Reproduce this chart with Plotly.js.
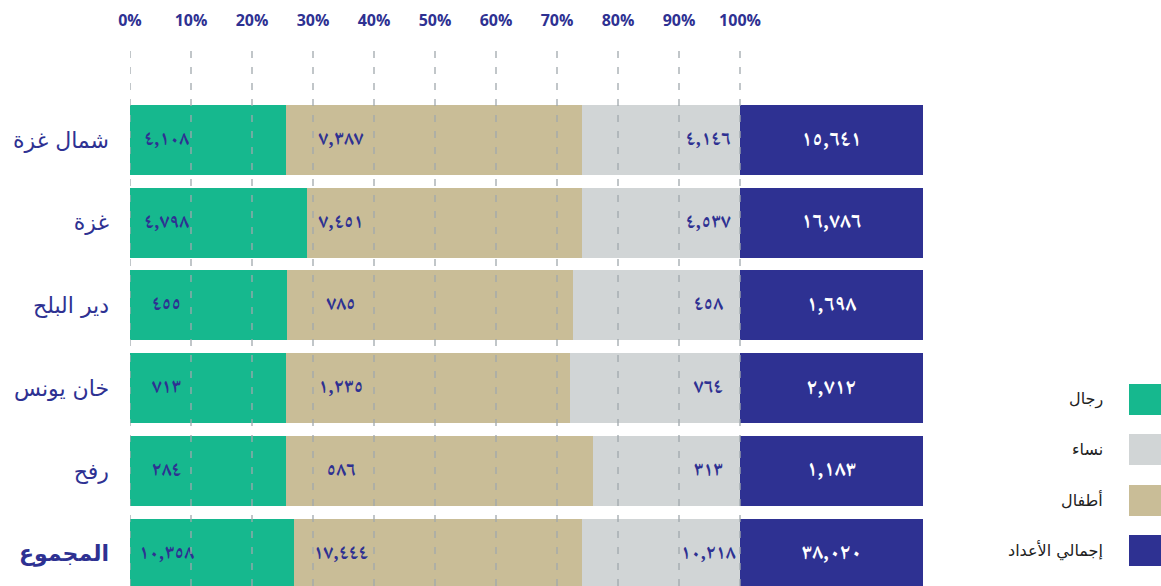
<!DOCTYPE html>
<html>
<head>
<meta charset="utf-8">
<script src="https://cdn.plot.ly/plotly-3.0.1.min.js"></script>
<style>html,body{margin:0;padding:0;background:#fff;}#chart{width:1161px;height:586px;}</style>
</head>
<body>
<div id="chart"></div>
<script>
// ---- data ----
const categories = ['شمال غزة', 'غزة', 'دير البلح', 'خان يونس', 'رفح', 'المجموع'];
const men      = [4108, 4798, 455, 713, 284, 10358];
const children = [7387, 7451, 785, 1235, 586, 17444];
const women    = [4146, 4537, 458, 764, 313, 10218];
const totals   = [15641, 16786, 1698, 2712, 1183, 38020];
// bar shares (%) as drawn in the picture
const menPct   = [25.6, 29.0, 25.7, 25.6, 25.6, 26.9];
const childPct = [48.5, 45.1, 46.9, 46.5, 50.3, 47.2];
const womenPct = [25.9, 25.9, 27.4, 27.9, 24.1, 25.9];
const xTicks = [0, 10, 20, 30, 40, 50, 60, 70, 80, 90, 100];
const xTickLabels = ['0%', '10%', '20%', '30%', '40%', '50%', '60%', '70%', '80%', '90%', '100%'];
const legendLabels = ['رجال', 'نساء', 'أطفال', 'إجمالي الأعداد'];

// ---- style ----
const NAVY = '#2e3192', GREEN = '#16b88e', GREY = '#d1d5d6', TAN = '#c9bd97';
const legendColors = [GREEN, GREY, TAN, NAVY];
const AR_FONT = "'DejaVu Sans', sans-serif";
const NUM_FONT = "'Noto Naskh Arabic', 'DejaVu Sans', sans-serif";

const arDigits = '٠١٢٣٤٥٦٧٨٩';
function fmt(n) {
  return n.toLocaleString('en-US').replace(/[0-9]/g, d => arDigits[+d]);
}

const TOTAL_SPAN = 30;
const barCommon = {type: 'bar', orientation: 'h', y: categories, hoverinfo: 'skip'};
const traces = [
  Object.assign({}, barCommon, {x: menPct, marker: {color: GREEN, line: {width: 0}}}),
  Object.assign({}, barCommon, {x: childPct, marker: {color: TAN, line: {width: 0}}}),
  Object.assign({}, barCommon, {x: womenPct, marker: {color: GREY, line: {width: 0}}}),
  Object.assign({}, barCommon, {x: categories.map(() => TOTAL_SPAN), marker: {color: NAVY, line: {width: 0}}})
];
function textTrace(xpos, vals, color, size) {
  return {type: 'scatter', mode: 'text', y: categories, x: categories.map(() => xpos),
    text: vals.map(fmt), textposition: 'middle center', hoverinfo: 'skip',
    textfont: {family: NUM_FONT, size: size, color: color, weight: 700}};
}
traces.push(textTrace(6.0, men, NAVY, 20));
traces.push(textTrace(34.6, children, NAVY, 20));
traces.push(textTrace(94.8, women, NAVY, 20));
traces.push(textTrace(115, totals, '#ffffff', 22));

const L = 130, R = 238, W = 1161, H = 586, T = 42, B = 0;
const plotW = W - L - R, plotH = H - T - B;
const px = x => (x - L) / plotW;
const py = y => 1 - (y - T) / plotH;

const shapes = xTicks.map(v => ({type: 'line', xref: 'x', yref: 'paper', x0: v, x1: v, y0: 0, y1: 1,
  layer: 'above', line: {color: '#a0a8ad', width: 1.3, dash: '7px,9px'}}));
const annotations = [];
const legendTops = [384, 434, 485, 535];
legendLabels.forEach((lab, i) => {
  const top = legendTops[i];
  shapes.push({type: 'rect', xref: 'paper', yref: 'paper', x0: px(1129), x1: px(1161), y0: py(top + 31), y1: py(top),
    fillcolor: legendColors[i], line: {width: 0}, layer: 'above'});
  annotations.push({xref: 'paper', yref: 'paper', x: px(1105), y: py(top + 15), xanchor: 'right', yanchor: 'middle',
    text: lab, showarrow: false, font: {family: AR_FONT, size: 16, color: '#222'}});
});

const layout = {
  width: W, height: H,
  margin: {l: L, r: R, t: T, b: B, pad: 0},
  paper_bgcolor: '#fff', plot_bgcolor: '#fff',
  barmode: 'stack', bargap: 0.154, showlegend: false,
  xaxis: {range: [0, 130], side: 'top', tickmode: 'array', tickvals: xTicks, ticktext: xTickLabels,
    showgrid: false, zeroline: false, showline: false, ticks: '', ticklabelstandoff: 12,
    tickfont: {family: "'Open Sans', sans-serif", size: 16, color: NAVY, weight: 700}, fixedrange: true},
  yaxis: {type: 'category', range: [5.393, -1.185], autorange: false, tickmode: 'array', tickvals: categories,
    ticktext: categories.map((c, i) => i === categories.length - 1 ? '<b>' + c + '</b>' : c),
    showgrid: false, zeroline: false, showline: false, ticks: '', ticklabelstandoff: 20,
    tickfont: {family: AR_FONT, size: 22, color: NAVY}, fixedrange: true},
  shapes: shapes, annotations: annotations
};
Plotly.newPlot('chart', traces, layout, {displayModeBar: false, staticPlot: true});
</script>
</body>
</html>
